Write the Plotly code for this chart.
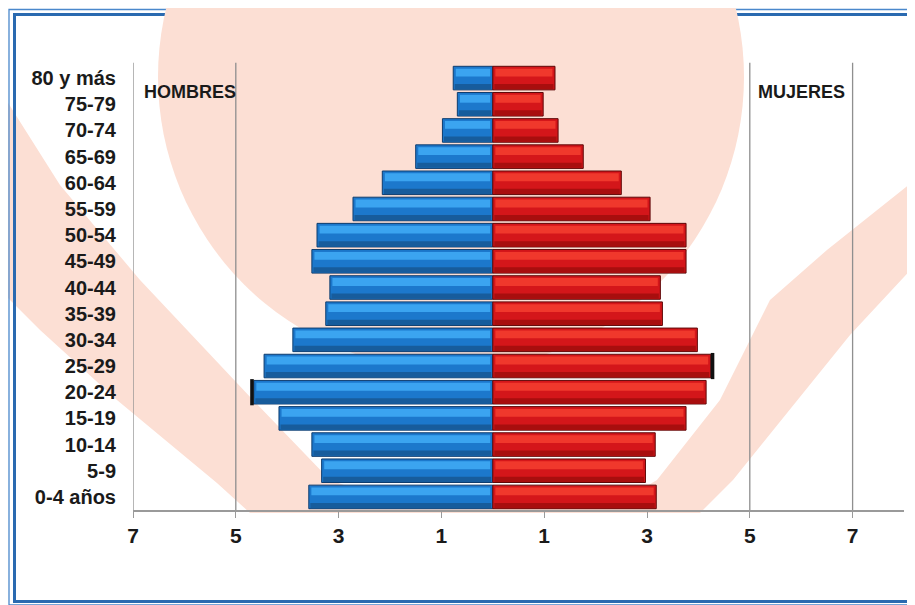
import plotly.graph_objects as go

# ---------------- data ----------------
categorias = ["0-4 años", "5-9", "10-14", "15-19", "20-24", "25-29", "30-34",
              "35-39", "40-44", "45-49", "50-54", "55-59", "60-64", "65-69",
              "70-74", "75-79", "80 y más"]
hombres = [3.58, 3.33, 3.52, 4.16, 4.65, 4.45, 3.89, 3.25, 3.17, 3.52, 3.42,
           2.72, 2.15, 1.50, 0.98, 0.69, 0.77]
mujeres = [3.18, 2.97, 3.16, 3.76, 4.15, 4.24, 3.98, 3.30, 3.26, 3.76, 3.76,
           3.06, 2.50, 1.76, 1.27, 0.98, 1.21]
tick_vals = [-7, -5, -3, -1, 1, 3, 5, 7]
tick_text = ["7", "5", "3", "1", "1", "3", "5", "7"]
grid_vals = [-7, -5, 5, 7]
# dark end caps visible in the original picture
cap_hombres = ["20-24"]
cap_mujeres = ["25-29"]

# ---------------- layout geometry ----------------
OFF = 8                      # page body margin of the browser
W, H = 915 - OFF, 605 - OFF
ML, MR, MT, MB = 133 - OFF, 11, 65 - OFF, 95
PW, PH = W - ML - MR, H - MT - MB


def px(x):
    """screen x (reference pixels) -> paper fraction"""
    return (x - OFF - ML) / PW


def py(y):
    """screen y (reference pixels) -> paper fraction"""
    return (H - MB - (y - OFF)) / PH


def path(points):
    return "M " + " L ".join(f"{px(a):.4f},{py(b):.4f}" for a, b in points) + " Z"


FONT = "Liberation Sans, Arial, sans-serif"
PINK = "#fcdfd4"

fig = go.Figure()

n = len(categorias)
# Hombres (left, negative)
fig.add_trace(go.Bar(
    y=categorias, x=[-v for v in hombres], orientation="h", width=0.9,
    marker=dict(color="#1c78cc", line=dict(color="#0f3d6e", width=1)),
    name="Hombres", showlegend=False))
fig.add_trace(go.Bar(
    y=categorias, x=[-(v - 0.1) for v in hombres], base=[-0.05] * n,
    orientation="h", width=0.3, offset=0.06,
    marker=dict(color="#3ba4f0", line=dict(width=0)),
    hoverinfo="skip", showlegend=False))
fig.add_trace(go.Bar(
    y=categorias, x=[-(v - 0.06) for v in hombres], base=[-0.03] * n,
    orientation="h", width=0.2, offset=-0.43,
    marker=dict(color="#175c9c", line=dict(width=0)),
    hoverinfo="skip", showlegend=False))

# Mujeres (right, positive)
fig.add_trace(go.Bar(
    y=categorias, x=mujeres, orientation="h", width=0.9,
    marker=dict(color="#d4161a", line=dict(color="#5e0808", width=1)),
    name="Mujeres", showlegend=False))
fig.add_trace(go.Bar(
    y=categorias, x=[v - 0.1 for v in mujeres], base=[0.05] * n,
    orientation="h", width=0.3, offset=0.06,
    marker=dict(color="#f0382c", line=dict(width=0)),
    hoverinfo="skip", showlegend=False))
fig.add_trace(go.Bar(
    y=categorias, x=[v - 0.06 for v in mujeres], base=[0.03] * n,
    orientation="h", width=0.2, offset=-0.43,
    marker=dict(color="#a80e0e", line=dict(width=0)),
    hoverinfo="skip", showlegend=False))

# dark end caps
ch = [hombres[categorias.index(c)] for c in cap_hombres]
cm = [mujeres[categorias.index(c)] for c in cap_mujeres]
fig.add_trace(go.Bar(
    y=cap_hombres, x=[-0.07] * len(ch), base=[-v for v in ch], orientation="h",
    width=1.0, marker=dict(color="#111111", line=dict(width=0)),
    hoverinfo="skip", showlegend=False))
fig.add_trace(go.Bar(
    y=cap_mujeres, x=[0.07] * len(cm), base=cm, orientation="h",
    width=1.0, marker=dict(color="#111111", line=dict(width=0)),
    hoverinfo="skip", showlegend=False))

shapes = []
# background watermark: U-shaped band
u_inner = [(0, 90), (60, 185), (140, 280), (253, 400), (330, 480), (400, 505),
           (600, 505), (640, 490), (657, 480), (720, 400), (770, 300), (827, 250),
           (915, 180)]
u_outer = [(915, 265), (850, 335), (733, 480), (700, 513), (250, 513),
           (217, 483), (117, 400), (40, 330), (0, 290)]
shapes.append(dict(type="path", xref="paper", yref="paper", layer="below",
                   path=path(u_inner + u_outer),
                   fillcolor=PINK, line=dict(width=0)))
# frame
shapes.append(dict(type="rect", xref="paper", yref="paper", layer="below",
                   x0=px(9), x1=px(940), y0=py(605), y1=py(9.5),
                   line=dict(color="#4a88cc", width=1.3)))
shapes.append(dict(type="rect", xref="paper", yref="paper", layer="below",
                   x0=px(14.5), x1=px(940), y0=py(601.5), y1=py(14.5),
                   line=dict(color="#2a6ab0", width=3)))
# top watermark disk
cx, cy, r = 451, 77, 293
shapes.append(dict(type="circle", xref="paper", yref="paper", layer="below",
                   x0=px(cx - r), x1=px(cx + r), y0=py(cy + r), y1=py(cy - r),
                   fillcolor=PINK, line=dict(width=0)))
# vertical reference lines
for g in grid_vals:
    shapes.append(dict(type="line", xref="x", yref="paper", layer="below",
                       x0=g, x1=g, y0=0, y1=1.005,
                       line=dict(color="#8f8f8f", width=1.3)))

fig.update_layout(
    width=W, height=H,
    margin=dict(l=ML, r=MR, t=MT, b=MB, pad=0),
    paper_bgcolor="white", plot_bgcolor="rgba(0,0,0,0)",
    barmode="overlay", bargap=0.1,
    shapes=shapes,
    xaxis=dict(range=[-7, 8], tickvals=tick_vals, ticktext=tick_text,
               showgrid=False, zeroline=False, showline=True,
               linecolor="#9a9a9a", linewidth=1.5,
               ticks="outside", ticklen=6, tickcolor="#9a9a9a", tickwidth=1.3,
               ticklabelstandoff=0,
               tickfont=dict(family=FONT, size=21, color="#1a1a1a", weight="bold")),
    yaxis=dict(type="category", categoryorder="array", categoryarray=categorias,
               range=[-0.5, 16.5], showgrid=False, zeroline=False, showline=False,
               ticks="", ticklabelstandoff=16,
               tickfont=dict(family=FONT, size=20, color="#1a1a1a", weight="bold")),
    annotations=[
        dict(text="HOMBRES", xref="paper", yref="paper", x=px(142), y=py(92),
             xanchor="left", yanchor="middle", showarrow=False,
             font=dict(family=FONT, size=18, color="#1a1a1a", weight="bold")),
        dict(text="MUJERES", xref="paper", yref="paper", x=px(756), y=py(92),
             xanchor="left", yanchor="middle", showarrow=False,
             font=dict(family=FONT, size=18, color="#1a1a1a", weight="bold")),
    ],
)

fig.write_html("out.html")
